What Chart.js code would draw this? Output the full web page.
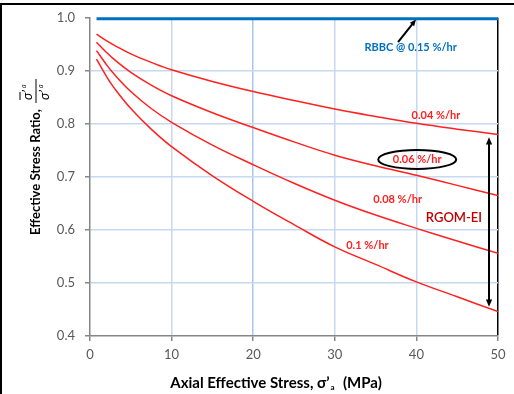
<!DOCTYPE html>
<html>
<head>
<meta charset="utf-8">
<script src="https://cdn.jsdelivr.net/npm/chart.js@4.4.1/dist/chart.umd.min.js"></script>
<style>
  html, body { margin: 0; padding: 0; background: #fff; }
  #box { width: 514px; height: 394px; }
</style>
</head>
<body>
<div id="box"><canvas id="grafico" width="514" height="394"></canvas></div>
<script>
// axial effective stress (MPa) where the curves were read
const stress = [0.8, 2, 3, 5, 7.5, 10, 15, 20, 25, 30, 35, 40, 45, 50];

// effective stress ratio for each RGOM-EI strain rate
const rate004 = [0.969, 0.957, 0.948, 0.932, 0.916, 0.902, 0.880, 0.861, 0.844, 0.828, 0.814, 0.801, 0.790, 0.780];
const rate006 = [0.954, 0.935, 0.921, 0.897, 0.873, 0.853, 0.821, 0.793, 0.766, 0.741, 0.721, 0.703, 0.684, 0.665];
const rate008 = [0.938, 0.912, 0.893, 0.861, 0.829, 0.803, 0.760, 0.723, 0.688, 0.656, 0.628, 0.603, 0.579, 0.556];
const rate010 = [0.922, 0.890, 0.867, 0.829, 0.790, 0.757, 0.702, 0.654, 0.610, 0.568, 0.535, 0.502, 0.474, 0.446];

// RBBC reference
const rbbcStress = [0.8, 50];
const rbbcRatio = [0.998, 0.998];

const xTicks = [0, 10, 20, 30, 40, 50];
const yTicks = [0.4, 0.5, 0.6, 0.7, 0.8, 0.9, 1.0];

function pares(xs, ys) {
  return xs.map((v, i) => ({ x: v, y: ys[i] }));
}

function curva(ys) {
  return {
    data: pares(stress, ys),
    borderColor: "#ff2020",
    borderWidth: 1.5,
    pointRadius: 0,
    showLine: true,
    tension: 0.4,
  };
}

const FONT = "Lato, 'Open Sans', sans-serif";

function seta(ctx, x1, y1, x2, y2, head) {
  const ang = Math.atan2(y2 - y1, x2 - x1);
  ctx.beginPath();
  ctx.moveTo(x1, y1);
  ctx.lineTo(x2 - Math.cos(ang) * head * 0.8, y2 - Math.sin(ang) * head * 0.8);
  ctx.stroke();
  ctx.beginPath();
  ctx.moveTo(x2, y2);
  ctx.lineTo(x2 - head * Math.cos(ang - 0.4), y2 - head * Math.sin(ang - 0.4));
  ctx.lineTo(x2 - head * Math.cos(ang + 0.4), y2 - head * Math.sin(ang + 0.4));
  ctx.closePath();
  ctx.fill();
}

const notas = {
  id: "notas",
  afterDraw(chart) {
    const ctx = chart.ctx;
    const sx = chart.scales.x, sy = chart.scales.y;
    const px = (v) => sx.getPixelForValue(v);
    const py = (v) => sy.getPixelForValue(v);
    ctx.save();

    // frame lines of the original figure
    ctx.fillStyle = "#000";
    ctx.fillRect(0, 3, chart.width, 2);
    ctx.fillRect(0, 3, 2, chart.height);

    // rate labels
    ctx.textAlign = "center";
    ctx.textBaseline = "middle";
    ctx.fillStyle = "#ff2020";
    ctx.font = "bold 11px " + FONT;
    ctx.fillText("0.04 %/hr", px(42.4), py(0.816));
    ctx.fillText("0.06 %/hr", px(40.1), py(0.733));
    ctx.fillText("0.08 %/hr", px(37.7), py(0.657));
    ctx.fillText("0.1 %/hr", px(34.0), py(0.571));

    ctx.fillStyle = "#0070c0";
    ctx.fillText("RBBC @ 0.15 %/hr", px(39.3), py(0.944));

    ctx.fillStyle = "#c00000";
    ctx.font = "600 13px " + FONT;
    ctx.fillText("RGOM-EI", px(44.6), py(0.622));

    // ellipse round 0.06 %/hr
    ctx.strokeStyle = "#000";
    ctx.lineWidth = 2;
    ctx.beginPath();
    ctx.ellipse(px(40.1), py(0.733), 39, 9.5, 0, 0, Math.PI * 2);
    ctx.stroke();

    // arrow to RBBC line
    ctx.fillStyle = "#000";
    ctx.lineWidth = 2;
    seta(ctx, px(37.75), py(0.954), px(39.95), py(0.997), 7);

    // double arrow for RGOM-EI range
    seta(ctx, px(48.9), py(0.615), px(48.9), py(0.775), 8);
    seta(ctx, px(48.9), py(0.615), px(48.9), py(0.455), 8);

    // x axis title
    ctx.fillStyle = "#000";
    ctx.textBaseline = "alphabetic";
    ctx.textAlign = "left";
    const xt1 = "Axial Effective Stress, \u03c3\u2019";
    const xt2 = "  (MPa)";
    ctx.font = "bold 15px " + FONT;
    const w1 = ctx.measureText(xt1).width;
    ctx.font = "bold 8px " + FONT;
    const ws = ctx.measureText("a").width + 2;
    ctx.font = "bold 15px " + FONT;
    const w2 = ctx.measureText(xt2).width;
    const x0 = 276 - (w1 + ws + w2) / 2;
    const yb = 388;
    ctx.fillText(xt1, x0, yb);
    ctx.font = "bold 8px " + FONT;
    ctx.fillText("a", x0 + w1 + 1, yb + 2);
    ctx.font = "bold 15px " + FONT;
    ctx.fillText(xt2, x0 + w1 + ws, yb);

    // y axis title, rotated
    ctx.translate(36, 172);
    ctx.rotate(-Math.PI / 2);
    ctx.textAlign = "center";
    ctx.textBaseline = "middle";
    ctx.font = "bold 13px " + FONT;
    ctx.fillText("Effective Stress Ratio,", 0, 0);
    // fraction sigma'a / sigma'a
    const fx = 81;
    ctx.lineWidth = 1;
    ctx.beginPath();
    ctx.moveTo(fx - 12, 0);
    ctx.lineTo(fx + 12, 0);
    ctx.stroke();
    ctx.font = "italic 13px " + FONT;
    ctx.textAlign = "left";
    ctx.fillText("\u03c3\u2019", fx - 9, -8);
    ctx.fillText("\u03c3\u2019", fx - 9, 9);
    ctx.font = "italic 7px " + FONT;
    ctx.fillText("a", fx + 3, -12);
    ctx.fillText("a", fx + 3, 5);
    ctx.beginPath();
    ctx.moveTo(fx - 9, -16);
    ctx.lineTo(fx - 1, -16);
    ctx.stroke();

    ctx.restore();
  },
};

const ctxGrafico = document.getElementById("grafico");

const chart = new Chart(ctxGrafico, {
  type: "scatter",
  data: {
    datasets: [
      {
        data: pares(rbbcStress, rbbcRatio),
        borderColor: "#0070c0",
        borderWidth: 3,
        pointRadius: 0,
        showLine: true,
        clip: false,
      },
      curva(rate004),
      curva(rate006),
      curva(rate008),
      curva(rate010),
    ],
  },
  options: {
    responsive: false,
    animation: false,
    layout: { padding: { top: 17, right: 16, left: 0, bottom: 0 } },
    plugins: {
      legend: { display: false },
      tooltip: { enabled: false },
    },
    scales: {
      x: {
        type: "linear",
        min: 0,
        max: 50,
        afterBuildTicks: (s) => { s.ticks = xTicks.map((v) => ({ value: v })); },
        afterFit: (s) => { s.height = 58; },
        ticks: {
          color: "#595959",
          font: { family: FONT, size: 13 },
          padding: 6,
          maxRotation: 0,
        },
        grid: {
          color: (c) => {
            const v = c.tick ? c.tick.value : null;
            if (v === 0) return "rgba(0,0,0,0)";
            if (v === 50) return "#000";
            if (v === 20) return "#a9c5ea";
            return "#c6d9f1";
          },
          lineWidth: 1.5,
          tickLength: 5,
          tickColor: "#868686",
        },
        border: { color: "#868686", width: 1.5 },
      },
      y: {
        type: "linear",
        min: 0.4,
        max: 1.0,
        afterBuildTicks: (s) => { s.ticks = yTicks.map((v) => ({ value: v })); },
        afterFit: (s) => { s.width = 90; },
        ticks: {
          color: "#595959",
          font: { family: FONT, size: 13 },
          padding: 10,
          callback: (v) => Number(v).toFixed(1),
        },
        grid: {
          color: (c) => {
            const v = c.tick ? c.tick.value : null;
            if (v !== null && (Math.abs(v - 0.4) < 1e-6 || Math.abs(v - 1.0) < 1e-6)) return "rgba(0,0,0,0)";
            return "#c6d9f1";
          },
          lineWidth: 1.5,
          tickLength: 5,
          tickColor: "#868686",
        },
        border: { color: "#868686", width: 1.5 },
      },
    },
  },
  plugins: [notas],
});
</script>
</body>
</html>
